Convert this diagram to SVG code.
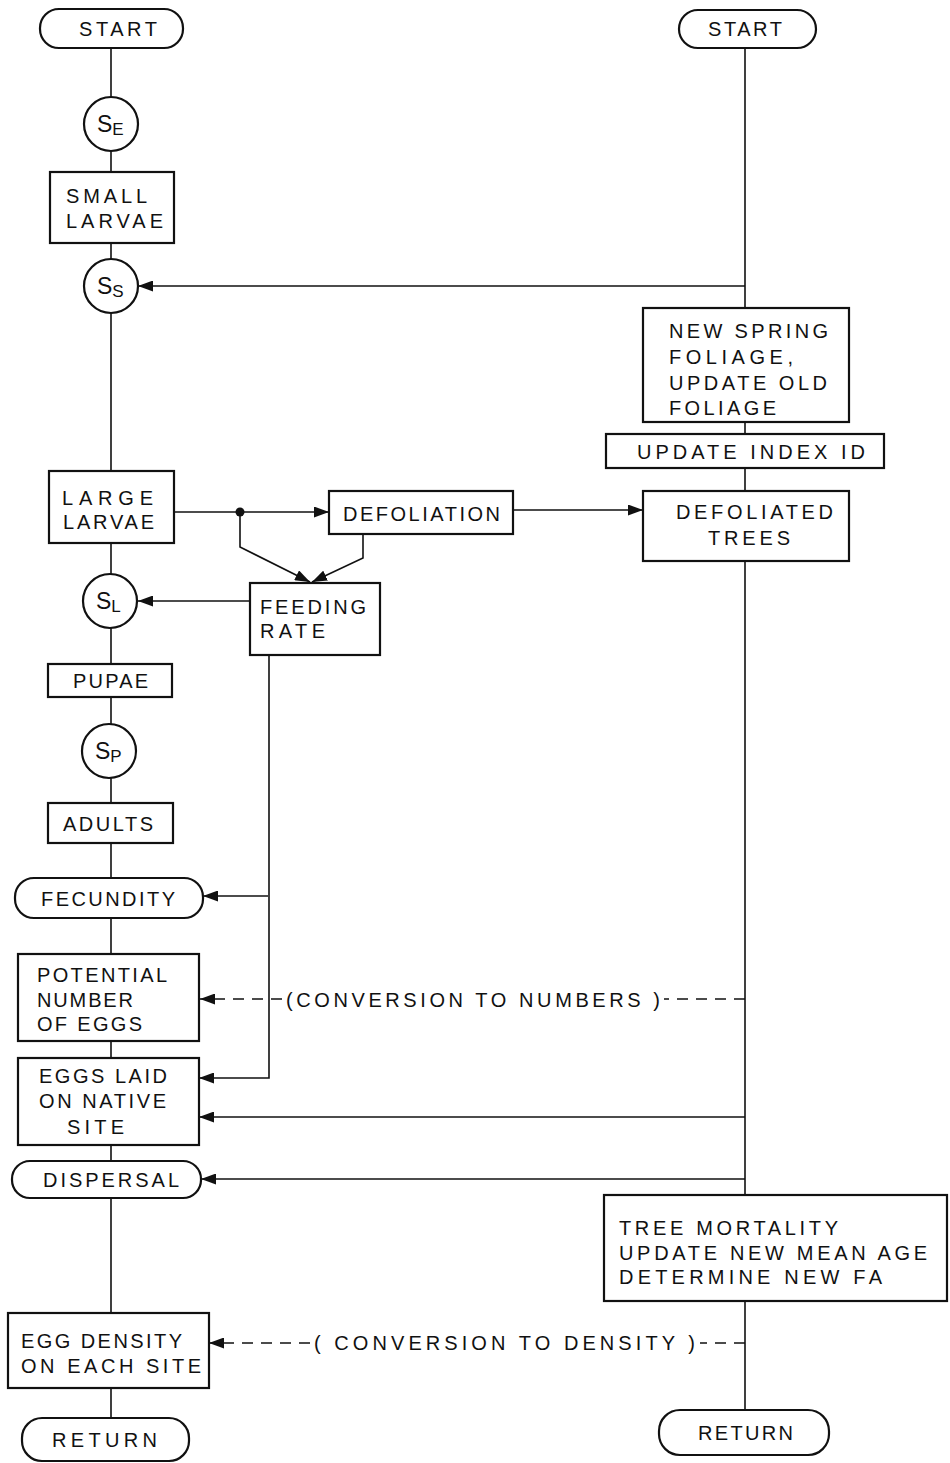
<svg xmlns="http://www.w3.org/2000/svg" width="950" height="1463" viewBox="0 0 950 1463">
<style>
.box{fill:#fff;stroke:#111;stroke-width:2.2}
.ln{fill:none;stroke:#111;stroke-width:1.6}
.ds{fill:none;stroke:#111;stroke-width:1.6;stroke-dasharray:11 8}
text{font-family:"Liberation Sans",Arial,sans-serif;font-size:20px;fill:#111}
.s{font-size:23px}
.sub{font-size:17px}
</style>
<defs>
<marker id="ah" viewBox="0 0 15 11" refX="15" refY="5.5" markerWidth="15" markerHeight="11" markerUnits="userSpaceOnUse" orient="auto">
<path d="M0,0 L15,5.5 L0,11 Z" fill="#111"/>
</marker>
</defs>
<rect width="950" height="1463" fill="#fff"/>
<g id="connectors">
<path class="ln" d="M111,48 V97 M111,151 V172 M111,243 V259 M111,313 V471 M111,543 V574 M111,628 V664 M111,697 V724 M111,778 V803 M111,843 V878 M111,918 V954 M111,1041 V1058 M111,1145 V1161 M111,1198 V1313 M111,1388 V1418"/>
<path class="ln" d="M745,48 V308 M745,422 V434 M745,468 V491 M745,561 V1195 M745,1301 V1410"/>
<path class="ln" d="M745,286 H138" marker-end="url(#ah)"/>
<path class="ln" d="M174,512 H329" marker-end="url(#ah)"/>
<circle cx="240" cy="512" r="4.5" fill="#111"/>
<path class="ln" d="M513,510 H643" marker-end="url(#ah)"/>
<path class="ln" d="M240,512 V547 L310,582" marker-end="url(#ah)"/>
<path class="ln" d="M363,534 V558 L312,582" marker-end="url(#ah)"/>
<path class="ln" d="M250,601 H138" marker-end="url(#ah)"/>
<path class="ln" d="M269,655 V1078 H199" marker-end="url(#ah)"/>
<path class="ln" d="M268,896 H203" marker-end="url(#ah)"/>
<path class="ds" d="M745,999 H664"/>
<path class="ds" d="M282,999 H200" marker-end="url(#ah)"/>
<path class="ln" d="M745,1117 H199" marker-end="url(#ah)"/>
<path class="ln" d="M745,1179 H201" marker-end="url(#ah)"/>
<path class="ds" d="M745,1343 H700"/>
<path class="ds" d="M310,1343 H209" marker-end="url(#ah)"/>
<text x="286" y="1007" textLength="374" lengthAdjust="spacing">(CONVERSION  TO NUMBERS )</text>
<text x="314" y="1350" textLength="381" lengthAdjust="spacing">( CONVERSION TO  DENSITY )</text>
</g>
<g id="startL"><rect class="box" x="40" y="9" width="143" height="39" rx="19"/><text x="79" y="36" textLength="78" lengthAdjust="spacing">START</text></g>
<g id="startR"><rect class="box" x="679" y="10" width="137" height="38" rx="19"/><text x="708" y="36" textLength="74" lengthAdjust="spacing">START</text></g>
<g id="sE"><circle class="box" cx="111" cy="124" r="27"/><text class="s" x="97" y="132">S<tspan class="sub" dy="3">E</tspan></text></g>
<g id="smallLarvae"><rect class="box" x="50" y="172" width="124" height="71"/><text x="66" y="203" textLength="81" lengthAdjust="spacing">SMALL</text><text x="66" y="228" textLength="97" lengthAdjust="spacing">LARVAE</text></g>
<g id="sS"><circle class="box" cx="111" cy="286" r="27"/><text class="s" x="97" y="294">S<tspan class="sub" dy="3">S</tspan></text></g>
<g id="newSpring"><rect class="box" x="643" y="308" width="206" height="114"/>
<text x="669" y="338" textLength="159" lengthAdjust="spacing">NEW SPRING</text>
<text x="669" y="364" textLength="124" lengthAdjust="spacing">FOLIAGE,</text>
<text x="669" y="390" textLength="158" lengthAdjust="spacing">UPDATE OLD</text>
<text x="669" y="415" textLength="107" lengthAdjust="spacing">FOLIAGE</text></g>
<g id="updateIndex"><rect class="box" x="606" y="434" width="278" height="34"/><text x="637" y="459" textLength="228" lengthAdjust="spacing">UPDATE INDEX ID</text></g>
<g id="largeLarvae"><rect class="box" x="49" y="471" width="125" height="72"/><text x="62" y="505" textLength="91" lengthAdjust="spacing">LARGE</text><text x="63" y="529" textLength="91" lengthAdjust="spacing">LARVAE</text></g>
<g id="defoliation"><rect class="box" x="329" y="491" width="184" height="43"/><text x="343" y="521" textLength="157" lengthAdjust="spacing">DEFOLIATION</text></g>
<g id="defoliatedTrees"><rect class="box" x="643" y="491" width="206" height="70"/><text x="676" y="519" textLength="157" lengthAdjust="spacing">DEFOLIATED</text><text x="708" y="545" textLength="82" lengthAdjust="spacing">TREES</text></g>
<g id="sL"><circle class="box" cx="110" cy="601" r="27"/><text class="s" x="96" y="609">S<tspan class="sub" dy="3">L</tspan></text></g>
<g id="feedingRate"><rect class="box" x="250" y="583" width="130" height="72"/><text x="260" y="614" textLength="106" lengthAdjust="spacing">FEEDING</text><text x="260" y="638" textLength="65" lengthAdjust="spacing">RATE</text></g>
<g id="pupae"><rect class="box" x="48" y="664" width="124" height="33"/><text x="73" y="688" textLength="75" lengthAdjust="spacing">PUPAE</text></g>
<g id="sP"><circle class="box" cx="109" cy="751" r="27"/><text class="s" x="95" y="759">S<tspan class="sub" dy="3">P</tspan></text></g>
<g id="adults"><rect class="box" x="48" y="803" width="125" height="40"/><text x="63" y="831" textLength="90" lengthAdjust="spacing">ADULTS</text></g>
<g id="fecundity"><rect class="box" x="15" y="878" width="188" height="40" rx="19"/><text x="41" y="906" textLength="134" lengthAdjust="spacing">FECUNDITY</text></g>
<g id="potential"><rect class="box" x="18" y="954" width="181" height="87"/>
<text x="37" y="982" textLength="130" lengthAdjust="spacing">POTENTIAL</text>
<text x="37" y="1007" textLength="96" lengthAdjust="spacing">NUMBER</text>
<text x="37" y="1031" textLength="105" lengthAdjust="spacing">OF EGGS</text></g>
<g id="eggsLaid"><rect class="box" x="18" y="1058" width="181" height="87"/>
<text x="39" y="1083" textLength="128" lengthAdjust="spacing">EGGS LAID</text>
<text x="39" y="1108" textLength="127" lengthAdjust="spacing">ON NATIVE</text>
<text x="67" y="1134" textLength="57" lengthAdjust="spacing">SITE</text></g>
<g id="dispersal"><rect class="box" x="12" y="1161" width="189" height="37" rx="18"/><text x="43" y="1187" textLength="136" lengthAdjust="spacing">DISPERSAL</text></g>
<g id="treeMortality"><rect class="box" x="604" y="1195" width="343" height="106"/>
<text x="619" y="1235" textLength="219" lengthAdjust="spacing">TREE  MORTALITY</text>
<text x="619" y="1260" textLength="308" lengthAdjust="spacing">UPDATE NEW MEAN AGE</text>
<text x="619" y="1284" textLength="263" lengthAdjust="spacing">DETERMINE NEW FA</text></g>
<g id="eggDensity"><rect class="box" x="8" y="1313" width="201" height="75"/>
<text x="21" y="1348" textLength="161" lengthAdjust="spacing">EGG DENSITY</text>
<text x="21" y="1373" textLength="180" lengthAdjust="spacing">ON EACH SITE</text></g>
<g id="returnL"><rect class="box" x="22" y="1418" width="167" height="43" rx="20"/><text x="52" y="1447" textLength="105" lengthAdjust="spacing">RETURN</text></g>
<g id="returnR"><rect class="box" x="659" y="1410" width="170" height="45" rx="21"/><text x="698" y="1440" textLength="95" lengthAdjust="spacing">RETURN</text></g>
</svg>
